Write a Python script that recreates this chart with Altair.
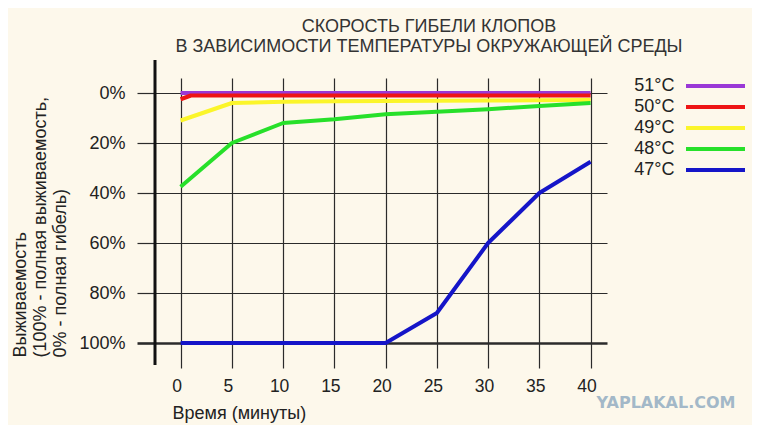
import altair as alt
import pandas as pd

# ---- data ----
minutes = [0, 5, 10, 15, 20, 25, 30, 35, 40]
red_minutes = [0, 1, 5, 10, 15, 20, 25, 30, 35, 40]

s51 = [0, 0, 0, 0, 0, 0, 0, 0, 0]
s50 = [2.5, 1, 1, 1, 1, 1, 1, 1, 1, 1]
s49 = [11, 4, 3.5, 3.3, 3.2, 3.1, 3.0, 2.9, 2.8]
s48 = [37.5, 20, 12, 10.5, 8.5, 7.5, 6.5, 5.2, 4]
s47 = [100, 100, 100, 100, 100, 88, 60, 40, 27.5]

series_names = ["51°C", "50°C", "49°C", "48°C", "47°C"]
series_colors = ["#9a38d6", "#ee1515", "#fbf52a", "#27e02a", "#1515c8"]

y_ticks = [0, 20, 40, 60, 80, 100]
x_ticks = [0, 5, 10, 15, 20, 25, 30, 35, 40]

title_lines = ["СКОРОСТЬ ГИБЕЛИ КЛОПОВ", "В ЗАВИСИМОСТИ ТЕМПЕРАТУРЫ ОКРУЖАЮЩЕЙ СРЕДЫ"]
y_title = ["Выживаемость", "(100% - полная выживаемость,", "0% - полная гибель)"]
x_title = "Время (минуты)"
watermark = "YAPLAKAL.COM"

rows = []
for name, xs, ys in [
    ("51°C", minutes, s51),
    ("50°C", red_minutes, s50),
    ("49°C", minutes, s49),
    ("48°C", minutes, s48),
    ("47°C", minutes, s47),
]:
    for xv, yv in zip(xs, ys):
        rows.append({"temp": name, "minute": xv, "value": yv})
df = pd.DataFrame(rows)

FONT = "Liberation Sans"
GRID = "#2b2b2b"

x_scale = alt.Scale(domain=[-2.5, 41.6], nice=False, zero=False)
y_scale = alt.Scale(domain=[-6, 110], nice=False, zero=False, reverse=True)

lines = alt.Chart(df).mark_line(strokeWidth=4, strokeCap="butt", strokeJoin="round").encode(
    x=alt.X(
        "minute:Q",
        scale=x_scale,
        axis=alt.Axis(
            values=x_ticks,
            grid=True,
            gridColor=GRID,
            gridWidth=1.2,
            gridOpacity=1,
            ticks=False,
            domain=False,
            labelFont=FONT,
            labelFontSize=17.5,
            labelColor="#222",
            labelPadding=9,
            labelOffset=-4,
            title=x_title,
            titleFont=FONT,
            titleFontSize=18,
            titleFontWeight="normal",
            titleColor="#222",
            titleAnchor="start",
            titleAlign="left",
            titleX=17,
            titleY=45,
            titleBaseline="middle",
        ),
    ),
    y=alt.Y(
        "value:Q",
        scale=y_scale,
        axis=alt.Axis(
            values=y_ticks,
            labelExpr="datum.value + '%'",
            grid=True,
            gridColor=GRID,
            gridOpacity=1,
            gridWidth={"condition": {"test": "datum.value === 100", "value": 2.6}, "value": 1.2},
            ticks=True,
            tickSize=18,
            tickColor=GRID,
            tickWidth={"condition": {"test": "datum.value === 100", "value": 2.6}, "value": 1.2},
            domain=False,
            labelFont=FONT,
            labelFontSize=18,
            labelColor="#222",
            labelPadding=12,
            title=y_title,
            titleFont=FONT,
            titleFontSize=18,
            titleFontWeight="normal",
            titleColor="#222",
            titleAngle=270,
            titleAlign="left",
            titleBaseline="top",
            titleLineHeight=20,
            titleX=-144,
            titleY=279,
        ),
    ),
    color=alt.Color(
        "temp:N",
        scale=alt.Scale(domain=series_names, range=series_colors),
        legend=alt.Legend(
            title=None,
            orient="none",
            legendX=548.5,
            legendY=-4,
            symbolType="M-2.95,0H2.95",
            symbolSize=400,
            symbolStrokeWidth=4,
            symbolOffset=0,
            rowPadding=0,
            labelAlign="right",
            labelOffset={"expr": "-53"},
            labelFont=FONT,
            labelFontSize=18,
            labelColor="#222",
            padding=0,
        ),
    ),
)

axis_bar = alt.Chart(alt.Data(values=[{"a": 1}])).mark_rule(color="#111", strokeWidth=3).encode(
    x=alt.value(0), y=alt.value(-18), y2=alt.value(287)
)

wm = alt.Chart(alt.Data(values=[{"t": watermark}])).mark_text(
    font="DejaVu Sans", fontSize=16, fontWeight="bold", color="#a3b8c8", align="center", baseline="middle"
).encode(text="t:N", x=alt.value(511), y=alt.value(325))

chart = (
    alt.layer(axis_bar, lines, wm)
    .properties(
        width=452,
        height=290,
        autosize=alt.AutoSizeParams(type="none"),
        padding={"left": 147, "top": 70, "right": 145, "bottom": 57},
        background="#fdf8eb",
        title=alt.TitleParams(
            text=title_lines,
            font="Liberation Sans Narrow, Liberation Sans",
            fontSize=18,
            fontWeight="normal",
            color="#333",
            lineHeight=19.5,
            anchor="middle",
            dx=48,
            dy=3,
            offset=6,
        ),
    )
    .configure_view(stroke=None)
)

chart.save("out.html", embed_options={"renderer": "svg", "actions": False})
